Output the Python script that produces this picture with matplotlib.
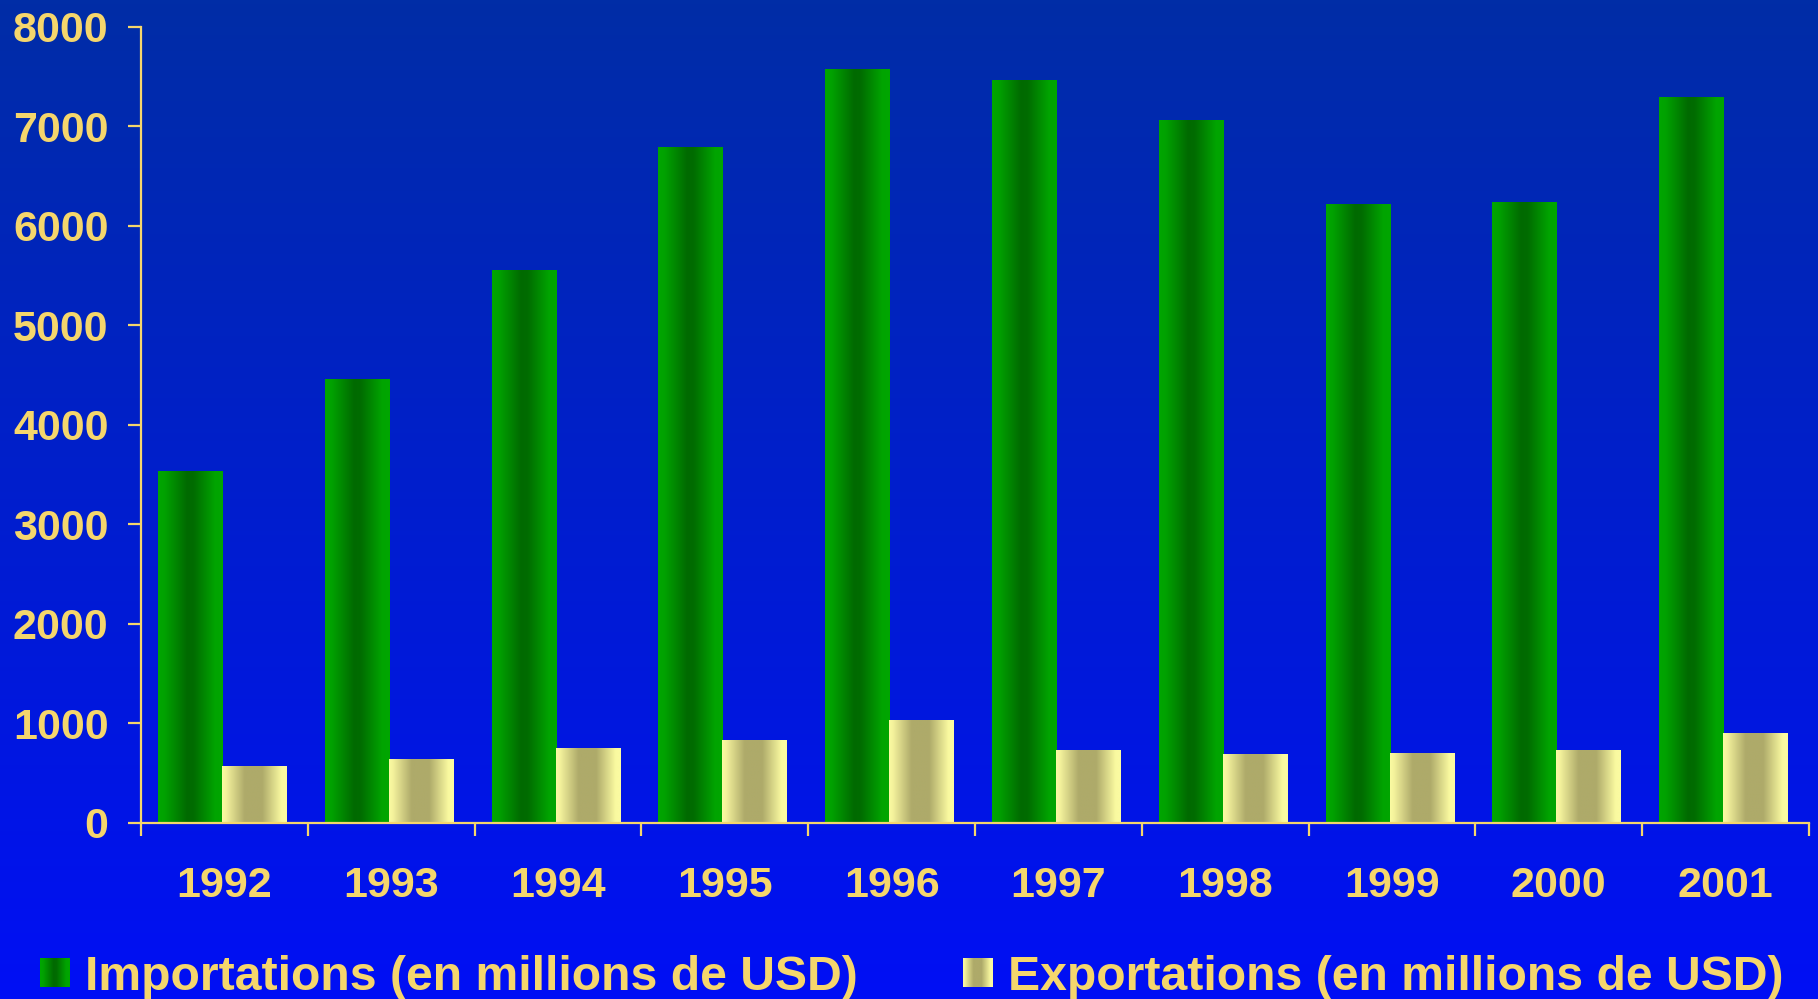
import numpy as np
import matplotlib
matplotlib.use("Agg")
import matplotlib.pyplot as plt
from matplotlib.colors import LinearSegmentedColormap

years = ["1992", "1993", "1994", "1995", "1996", "1997", "1998", "1999", "2000", "2001"]
importations = [3540, 4460, 5560, 6790, 7580, 7470, 7070, 6220, 6240, 7300]
exportations = [570, 640, 750, 830, 1030, 730, 690, 700, 730, 900]
yticks = [0, 1000, 2000, 3000, 4000, 5000, 6000, 7000, 8000]
label_imp = "Importations (en millions de USD)"
label_exp = "Exportations (en millions de USD)"

TXT = "#F5D66C"
plt.rcParams["font.family"] = ["Liberation Sans", "DejaVu Sans"]
plt.rcParams["font.weight"] = "bold"

W, H, DPI = 1818, 999, 100
fig = plt.figure(figsize=(W / DPI, H / DPI), dpi=DPI)

# background vertical gradient
bg = fig.add_axes([0, 0, 1, 1], zorder=0)
bg_cmap = LinearSegmentedColormap.from_list("bg", ["#000FF5", "#002DA6"])
bg.imshow(np.linspace(0, 1, 256).reshape(-1, 1)[::-1], cmap=bg_cmap, aspect="auto",
          extent=[0, 1, 0, 1])
bg.axis("off")

green_cmap = LinearSegmentedColormap.from_list(
    "g", [(0, "#00A600"), (0.1, "#00A200"), (0.45, "#006A00"), (0.55, "#006C00"),
          (0.88, "#00A400"), (1, "#00A600")])
yel_cmap = LinearSegmentedColormap.from_list(
    "y", [(0, "#FAFAA2"), (0.06, "#F4F29C"), (0.35, "#AEAA6A"), (0.62, "#AEAA6A"),
          (0.92, "#FAFAA0"), (1, "#FAFAA2")])

left, right = 141 / W, 1809 / W
bottom, top = 1 - 822.7 / H, 1 - 27 / H
ax = fig.add_axes([left, bottom, right - left, top - bottom], zorder=1)
ax.patch.set_alpha(0)

x = np.arange(len(years))
w = 0.384
off = -0.014
b1 = ax.bar(x + off - w / 2, importations, w, color="none", edgecolor="none")
b2 = ax.bar(x + off + w / 2, exportations, w, color="none", edgecolor="none")

grad = np.linspace(0, 1, 256).reshape(1, -1)
for bars, cmap in ((b1, green_cmap), (b2, yel_cmap)):
    for p in bars:
        x0, y0 = p.get_x(), p.get_y()
        im = ax.imshow(grad, cmap=cmap, aspect="auto",
                       extent=[x0, x0 + p.get_width(), y0, y0 + p.get_height()],
                       zorder=2, interpolation="bilinear")
        im.set_clip_path(p)

ax.set_xlim(-0.5, len(years) - 0.5)
ax.set_ylim(0, 8000)
ax.set_yticks(yticks)
ax.set_yticklabels([str(v) for v in yticks])
ax.set_xticks(x)
ax.set_xticklabels(years)
ax.set_xticks(np.arange(len(years) + 1) - 0.5, minor=True)

for s in ("top", "right"):
    ax.spines[s].set_visible(False)
for s in ("left", "bottom"):
    ax.spines[s].set_color(TXT)
    ax.spines[s].set_linewidth(1.6)

ax.tick_params(axis="y", colors=TXT, length=9.4, width=1.6, pad=14, labelsize=31)
ax.tick_params(axis="x", which="major", colors=TXT, length=0, pad=31.5, labelsize=31)
ax.tick_params(axis="x", which="minor", colors=TXT, length=9, width=1.6)
for t in ax.get_xticklabels() + ax.get_yticklabels():
    t.set_fontweight("bold")

# manual legend
for sx, cmap, lab, tx in ((40, green_cmap, label_imp, 85), (962.5, yel_cmap, label_exp, 1008)):
    sa = fig.add_axes([sx / W, 1 - 987 / H, 30 / W, 29 / H], zorder=2)
    sa.imshow(grad, cmap=cmap, aspect="auto", extent=[0, 1, 0, 1])
    sa.axis("off")
    fig.text(tx / W, 1 - 990 / H, lab, color=TXT, fontsize=34.7, fontweight="bold",
             va="baseline", ha="left", zorder=3)

fig.savefig("out.png", dpi=DPI)
